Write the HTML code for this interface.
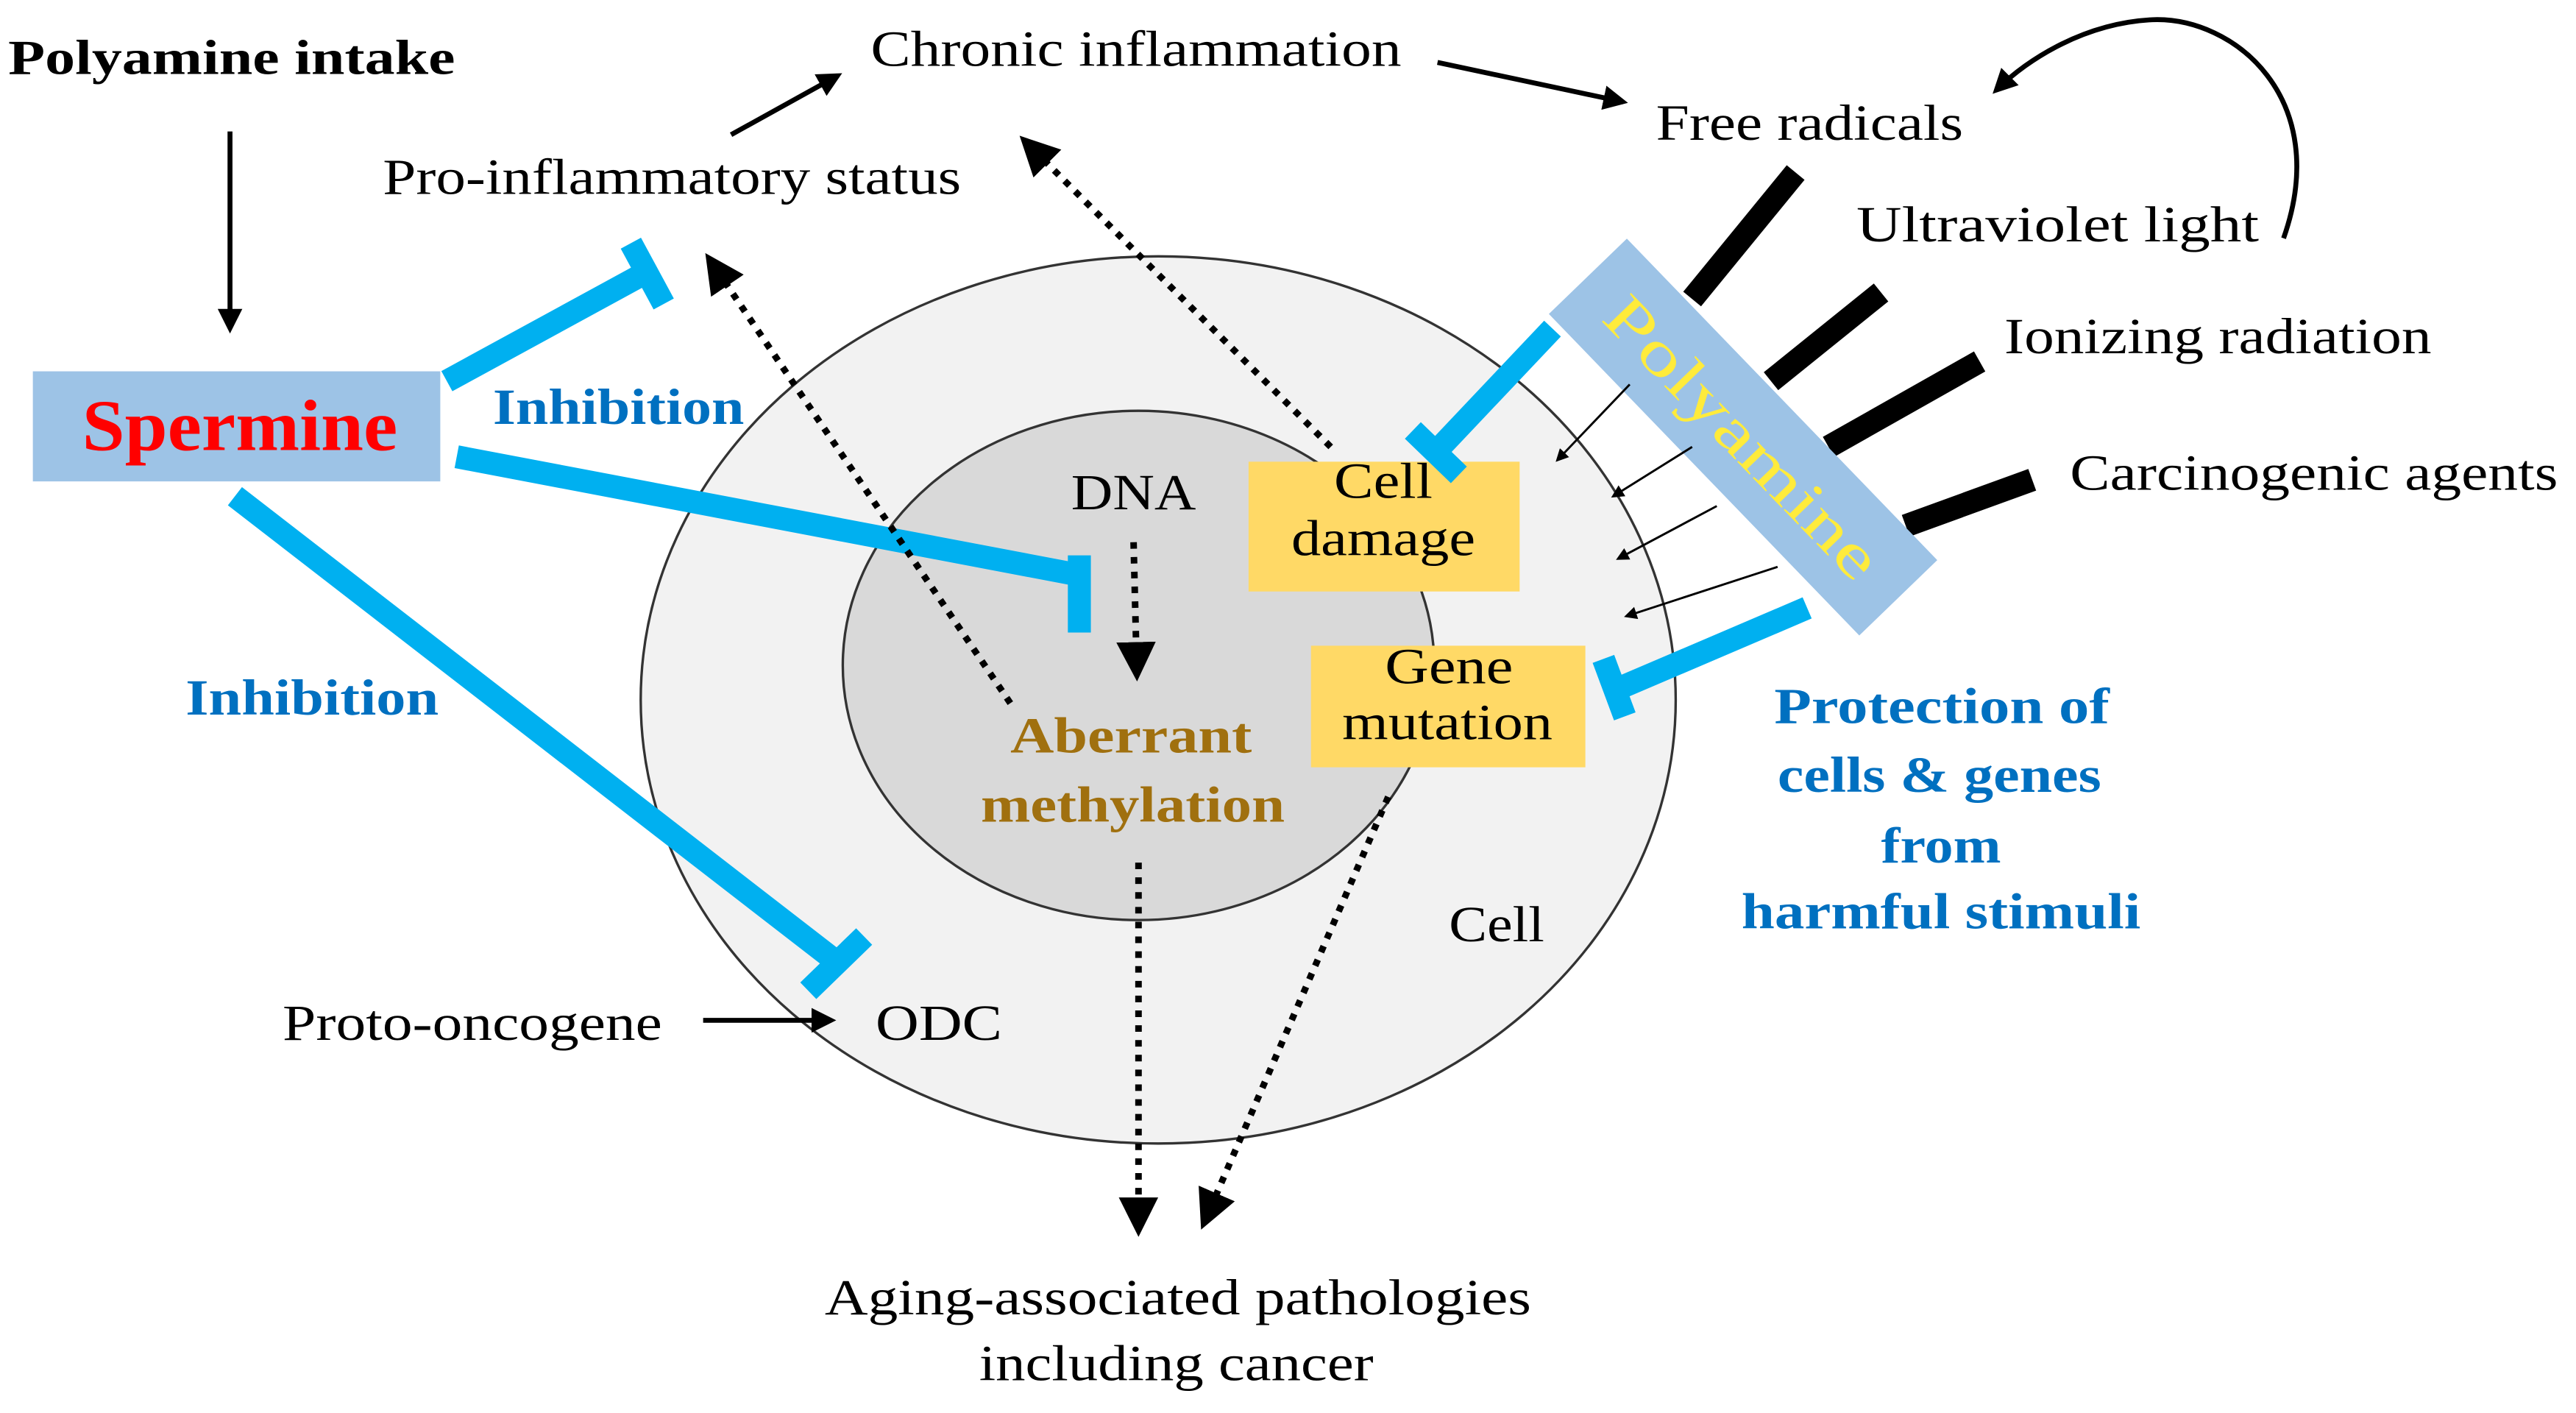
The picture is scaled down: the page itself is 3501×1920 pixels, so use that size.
<!DOCTYPE html>
<html><head><meta charset="utf-8"><style>
html,body{margin:0;padding:0;background:#fff;}
svg{display:block;}
text{font-family:"Liberation Serif",serif;}
</style></head><body>
<svg width="3501" height="1920" viewBox="0 0 1568 860" preserveAspectRatio="none" xmlns="http://www.w3.org/2000/svg">
<defs>
<marker id="ah" viewBox="0 0 10 10" refX="8" refY="5" markerWidth="5" markerHeight="5" orient="auto"><path d="M0,0 L10,5 L0,10 z" fill="#000"/></marker>
<marker id="ahs" viewBox="0 0 10 10" refX="8" refY="5" markerWidth="6" markerHeight="6" orient="auto"><path d="M0,0 L10,5 L0,10 z" fill="#000"/></marker>
</defs>
<rect width="1568" height="860" fill="#fff"/>
<ellipse cx="705" cy="426" rx="315" ry="270" fill="#f2f2f2" stroke="#333" stroke-width="1.5"/>
<ellipse cx="693" cy="405" rx="180" ry="155" fill="#d9d9d9" stroke="#333" stroke-width="1.5"/>
<g font-size="31">
<text x="652" y="310" textLength="76" lengthAdjust="spacingAndGlyphs">DNA</text>
<text x="615" y="458" font-weight="bold" fill="#a0700f" textLength="147" lengthAdjust="spacingAndGlyphs">Aberrant</text>
<text x="597" y="500" font-weight="bold" fill="#a0700f" textLength="185" lengthAdjust="spacingAndGlyphs">methylation</text>
<text x="882" y="573" textLength="58" lengthAdjust="spacingAndGlyphs">Cell</text>
</g>
<rect x="760" y="281" width="165" height="79" fill="#ffd966"/>
<rect x="798" y="393" width="167" height="74" fill="#ffd966"/>
<g font-size="31">
<text x="812" y="303" textLength="60" lengthAdjust="spacingAndGlyphs">Cell</text>
<text x="786" y="338" textLength="112" lengthAdjust="spacingAndGlyphs">damage</text>
<text x="843" y="416" textLength="78" lengthAdjust="spacingAndGlyphs">Gene</text>
<text x="817" y="450" textLength="128" lengthAdjust="spacingAndGlyphs">mutation</text>
</g>
<text x="5" y="45" font-size="30" font-weight="bold" textLength="272" lengthAdjust="spacingAndGlyphs">Polyamine intake</text>
<line x1="140" y1="80" x2="140" y2="200" stroke="#000" stroke-width="3" marker-end="url(#ah)"/>
<rect x="20" y="226" width="248" height="67" fill="#9dc3e6"/>
<text x="50" y="274" font-size="44" font-weight="bold" fill="#ff0000" textLength="192" lengthAdjust="spacingAndGlyphs">Spermine</text>
<g font-size="31">
<text x="233" y="118" textLength="352" lengthAdjust="spacingAndGlyphs">Pro-inflammatory status</text>
<text x="530" y="40" textLength="323" lengthAdjust="spacingAndGlyphs">Chronic inflammation</text>
<text x="1008" y="85" textLength="187" lengthAdjust="spacingAndGlyphs">Free radicals</text>
<text x="1130" y="147" textLength="245" lengthAdjust="spacingAndGlyphs">Ultraviolet  light</text>
<text x="1220" y="215" textLength="260" lengthAdjust="spacingAndGlyphs">Ionizing radiation</text>
<text x="1260" y="298" textLength="297" lengthAdjust="spacingAndGlyphs">Carcinogenic agents</text>
<text x="172" y="633" textLength="231" lengthAdjust="spacingAndGlyphs">Proto-oncogene</text>
<text x="533" y="633" textLength="77" lengthAdjust="spacingAndGlyphs">ODC</text>
<text x="502" y="800" textLength="430" lengthAdjust="spacingAndGlyphs">Aging-associated pathologies</text>
<text x="596" y="840" textLength="240" lengthAdjust="spacingAndGlyphs">including cancer</text>
</g>
<line x1="428" y1="621" x2="506" y2="621" stroke="#000" stroke-width="3" marker-end="url(#ah)"/>
<line x1="445" y1="82" x2="510" y2="46" stroke="#000" stroke-width="3" marker-end="url(#ah)"/>
<line x1="875" y1="38" x2="988" y2="62" stroke="#000" stroke-width="3" marker-end="url(#ah)"/>
<path d="M1390,145 C1420,60 1360,10 1310,12 C1270,14 1235,35 1215,55" fill="none" stroke="#000" stroke-width="3" marker-end="url(#ah)"/>
<g stroke="#000" stroke-width="14">
<line x1="1030" y1="182" x2="1093" y2="105"/>
<line x1="1078" y1="232" x2="1145" y2="178"/>
<line x1="1113" y1="272" x2="1205" y2="220"/>
<line x1="1160" y1="320" x2="1237" y2="292"/>
</g>
<g transform="translate(1061,266) rotate(46)">
<rect x="-136" y="-33" width="272" height="66" fill="#9dc3e6"/>
<text x="-112" y="13" font-size="38" fill="#ffeb3b" textLength="224" lengthAdjust="spacingAndGlyphs">Polyamine</text>
</g>
<g stroke="#000" stroke-width="1.3" marker-end="url(#ahs)">
<line x1="992" y1="234" x2="948" y2="280"/>
<line x1="1030" y1="272" x2="982" y2="302"/>
<line x1="1045" y1="308" x2="985" y2="340"/>
<line x1="1082" y1="345" x2="990" y2="375"/>
</g>
<g stroke="#00b0f0" stroke-width="14" fill="none">
<line x1="272" y1="232" x2="393" y2="166"/>
<line x1="384" y1="148" x2="404" y2="185"/>
<line x1="278" y1="278" x2="657" y2="350"/>
<line x1="657" y1="338" x2="657" y2="385"/>
<line x1="143" y1="302" x2="510" y2="586"/>
<line x1="492" y1="603" x2="526" y2="570"/>
<line x1="945" y1="200" x2="874" y2="275"/>
<line x1="860" y1="262" x2="888" y2="289"/>
<line x1="1100" y1="370" x2="983" y2="420"/>
<line x1="976" y1="401" x2="989" y2="436"/>
</g>
<g font-size="31" font-weight="bold" fill="#0070c0">
<text x="300" y="258" textLength="153" lengthAdjust="spacingAndGlyphs">Inhibition</text>
<text x="113" y="435" textLength="154" lengthAdjust="spacingAndGlyphs">Inhibition</text>
<text x="1080" y="440" textLength="204" lengthAdjust="spacingAndGlyphs">Protection of</text>
<text x="1082" y="482" textLength="197" lengthAdjust="spacingAndGlyphs">cells &amp; genes</text>
<text x="1145" y="525" textLength="73" lengthAdjust="spacingAndGlyphs">from</text>
<text x="1060" y="565" textLength="243" lengthAdjust="spacingAndGlyphs">harmful stimuli</text>
</g>
<g stroke="#000" stroke-width="4" stroke-dasharray="4 5" fill="none" marker-end="url(#ahs)">
<line x1="615" y1="428" x2="432" y2="158"/>
<line x1="810" y1="272" x2="624" y2="86"/>
<line x1="690" y1="330" x2="692" y2="410"/>
<line x1="693" y1="525" x2="693" y2="748"/>
<line x1="845" y1="485" x2="733" y2="744"/>
</g>
</svg>
</body></html>
